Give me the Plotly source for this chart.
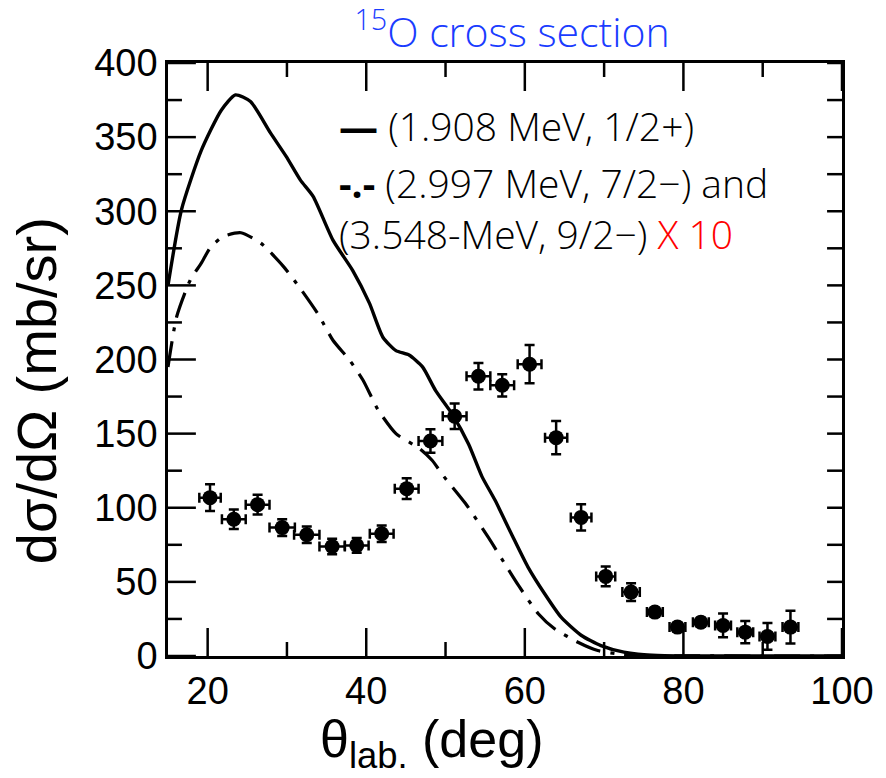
import plotly.graph_objects as go

# ---------------- data ----------------
theta_data = [20.3, 23.3, 26.3, 29.4, 32.5, 35.7, 38.8, 41.95, 45.1, 48.1, 51.15, 54.15, 57.15, 60.6,
              63.95, 67.1, 70.2, 73.4, 76.4, 79.25, 82.2, 85.0, 87.8, 90.6, 93.5]
xs_data = [106.8, 92.2, 102.1, 86.6, 81.8, 73.9, 74.6, 82.5, 112.9, 145.0, 161.7, 188.7, 182.6, 196.8,
           147.3, 93.5, 53.7, 43.1, 29.6, 19.5, 22.8, 20.6, 16.1, 13.2, 19.5]
xs_err = [9.0, 6.6, 6.7, 5.6, 5.6, 5.2, 5.0, 5.6, 7.0, 7.9, 8.6, 9.0, 7.5, 12.9,
          11.2, 8.8, 6.7, 6.0, 3.0, 3.0, 3.0, 8.0, 7.5, 9.0, 11.0]
theta_err = [1.35, 1.5, 1.5, 1.6, 1.6, 1.6, 1.5, 1.5, 1.5, 1.5, 1.5, 1.5, 1.5, 1.5,
             1.4, 1.3, 1.2, 1.1, 1.0, 1.0, 1.0, 1.0, 1.0, 1.0, 1.0]

theta_solid = [15, 16.7, 19.2, 21.7, 23.5, 25.4, 27.9, 29.9, 31.7, 33.3, 35.8, 38.3, 40.4, 42.1, 43.75,
               45.4, 47.1, 48.75, 50.8, 52.9, 54.6, 56.25, 58.3, 60.4, 62.5, 64.6, 67.1, 69.6, 72.5,
               76.7, 80, 90, 100]
xs_solid = [250, 301, 341, 368, 378.5, 374, 353, 337, 321, 310, 280.5, 260, 238, 215, 206,
            203, 195, 179, 163.5, 143, 121, 105, 82.5, 60, 42, 26, 14, 7, 2.6,
            0.3, 0.1, 0, 0]

theta_dashdot = [15, 16.1, 17.8, 19.2, 20.4, 22.0, 24.2, 26.7, 29.6, 31.8, 34.0, 35.8, 37.9, 39.6, 41.5,
                 43.75, 46.7, 48.3, 49.8, 52.5, 55.4, 57.5, 59.2, 61.7, 63.75, 66.7, 69.2, 71.7, 75,
                 80, 90, 100]
xs_dashdot = [195, 229, 253.5, 265, 276, 283, 285.5, 278.5, 262.5, 247, 230, 213, 199.5, 186, 166,
              150, 140, 132, 121, 103, 80, 62, 47.6, 28.5, 18.4, 9.3, 3.7, 1.5, 0.4,
              0.1, 0, 0]

x_ticks = [20, 40, 60, 80, 100]
x_minor = [30, 50, 70, 90]
y_ticks = [0, 50, 100, 150, 200, 250, 300, 350, 400]
y_minor = [25, 75, 125, 175, 225, 275, 325, 375]
x_range = [15, 100]
y_range = [0, 400]

title_text = "<sup>15</sup>O cross section"
legend_solid = "<b>—</b> (1.908 MeV, 1/2+)"
legend_dash1 = "<b>-.-</b> (2.997 MeV, 7/2−) and"
legend_dash2 = "(3.548-MeV, 9/2−) <span style='color:#ff0000'>X 10</span>"
y_title = "dσ/dΩ (mb/sr)"
x_title = "θ<sub>lab.</sub> (deg)"

# ---------------- geometry ----------------
W, H = 886, 778
M_L, M_R, M_T, M_B = 168, 41, 63, 122
plot_w = W - M_L - M_R
plot_h = H - M_T - M_B
x_per_px = (x_range[1] - x_range[0]) / plot_w
y_per_px = (y_range[1] - y_range[0]) / plot_h
MAJOR_PX, MINOR_PX, RIGHT_PX = 28, 14, 15

# ---------------- figure ----------------
fig = go.Figure()

# inside tick marks (all four sides), built from the tick lists
tx, ty = [], []
for vals, L in ((x_ticks, MAJOR_PX), (x_minor, MINOR_PX)):
    for v in vals:
        tx += [v, v, None, v, v, None]
        ty += [y_range[0], y_range[0] + L * y_per_px, None,
               y_range[1], y_range[1] - L * y_per_px, None]
for vals, L in ((y_ticks, MAJOR_PX), (y_minor, MINOR_PX)):
    for v in vals:
        tx += [x_range[0], x_range[0] + L * x_per_px, None,
               x_range[1], x_range[1] - RIGHT_PX * x_per_px, None]
        ty += [v, v, None, v, v, None]
fig.add_trace(go.Scatter(x=tx, y=ty, mode="lines", line=dict(color="black", width=2.5),
                         showlegend=False, hoverinfo="skip", cliponaxis=False))

fig.add_trace(go.Scatter(x=theta_solid, y=xs_solid, mode="lines",
                         line=dict(color="black", width=3.4, shape="spline", smoothing=0.6),
                         showlegend=False, hoverinfo="skip"))
fig.add_trace(go.Scatter(x=theta_dashdot, y=xs_dashdot, mode="lines",
                         line=dict(color="black", width=3.2, dash="26px,10px,4px,10px",
                                   shape="spline", smoothing=0.6),
                         showlegend=False, hoverinfo="skip"))
fig.add_trace(go.Scatter(x=theta_data, y=xs_data, mode="markers",
                         marker=dict(color="black", size=15),
                         error_y=dict(type="data", array=xs_err, color="black", thickness=2.5, width=5),
                         error_x=dict(type="data", array=theta_err, color="black", thickness=2.5, width=5),
                         showlegend=False))

tickfont = dict(family="Liberation Sans, Arial, sans-serif", size=38, color="black")
common = dict(showline=True, linewidth=2.5, linecolor="black", mirror=True,
              showgrid=False, zeroline=False, ticks="")

fig.update_layout(
    xaxis=dict(range=x_range, tickmode="array", tickvals=x_ticks, tickfont=tickfont, **common),
    yaxis=dict(range=y_range, tickmode="array", tickvals=y_ticks, tickfont=tickfont, **common),
)

legend_font = dict(family="Open Sans, Noto Sans, sans-serif", size=39, color="black", weight=300)

annotations = [
    dict(text=legend_solid, xref="paper", yref="paper", x=0.251, y=0.895,
         xanchor="left", yanchor="middle", showarrow=False, font=legend_font),
    dict(text=legend_dash1, xref="paper", yref="paper", x=0.251, y=0.799,
         xanchor="left", yanchor="middle", showarrow=False, font=legend_font),
    dict(text=legend_dash2, xref="paper", yref="paper", x=0.251, y=0.713,
         xanchor="left", yanchor="middle", showarrow=False, font=legend_font),
    dict(text=y_title, xref="paper", yref="paper", x=-0.196, y=0.448, textangle=-90,
         xanchor="center", yanchor="middle", showarrow=False,
         font=dict(family="Liberation Sans, Arial, sans-serif", size=56, color="black")),
    dict(text=x_title, xref="paper", yref="paper", x=0.391, y=-0.088,
         xanchor="center", yanchor="top", showarrow=False,
         font=dict(family="Liberation Sans, Arial, sans-serif", size=52, color="black")),
]

fig.update_layout(
    width=W, height=H,
    margin=dict(l=M_L, r=M_R, t=M_T, b=M_B),
    paper_bgcolor="white", plot_bgcolor="white",
    title=dict(text=title_text, x=0.578, y=0.958, xanchor="center", yanchor="middle",
               font=dict(family="Open Sans, Noto Sans, sans-serif", size=41, color="#1a3cff",
                         weight=300)),
    annotations=annotations,
    showlegend=False,
)

fig.write_html("out.html")
